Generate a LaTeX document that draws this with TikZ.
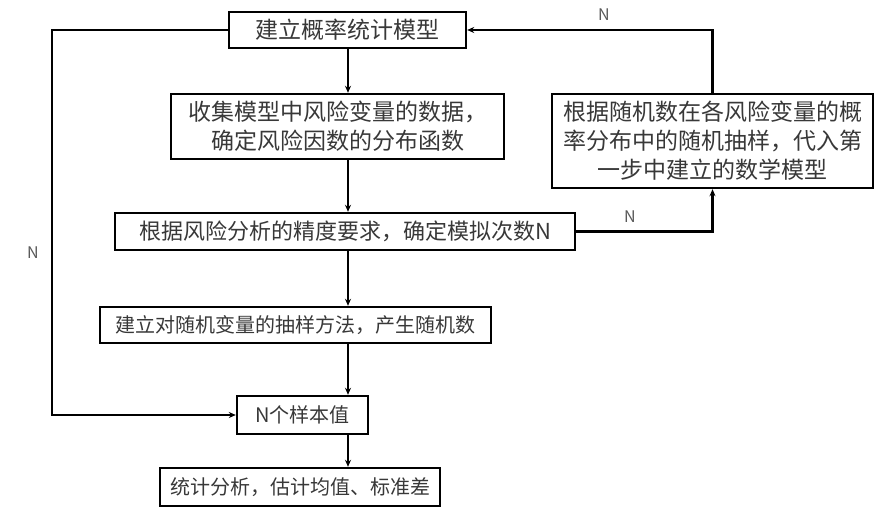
\documentclass[tikz,border=0pt]{standalone}
\usepackage{fontspec}
\setmainfont{Noto Sans CJK SC}
\usepackage{tikz}
\usetikzlibrary{arrows.meta}

\begin{document}
\begin{tikzpicture}[x=1pt,y=-1pt,
  box/.style={draw,line width=2.4pt,inner sep=0pt,align=center,text=black!78,
    font=\fontsize{23}{29}\selectfont},
  small/.style={font=\fontsize{20}{26}\selectfont},
  arr/.style={line width=2.4pt,-{Stealth[length=7pt,width=6pt]}},
  lab/.style={text=black!65,font=\fontsize{16}{18}\selectfont}]
\useasboundingbox (0,0) rectangle (886,532);
\node[coordinate] (c) at (348,0) {};
\node[coordinate] (l) at (52,0) {};

% boxes
\node[box,minimum width=237,minimum height=36] (model) at (347.5,30) {建立概率统计模型};
\node[box,minimum width=333,minimum height=65] (data) at (337.5,126.5)
  {收集模型中风险变量的数据，\\确定风险因数的分布函数};
\node[box,font=\fontsize{22}{29}\selectfont,minimum width=460,minimum height=37] (times) at (345,231.5)
  {根据风险分析的精度要求，确定模拟次数N};
\node[box,minimum width=321,minimum height=94] (sample) at (712.5,141)
  {根据随机数在各风险变量的概\\率分布中的随机抽样，代入第\\一步中建立的数学模型};
\node[box,small,minimum width=391,minimum height=36] (rand) at (295.5,325)
  {建立对随机变量的抽样方法，产生随机数};
\node[box,small,minimum width=131,minimum height=38] (vals) at (302.5,415) {N个样本值};
\node[box,small,minimum width=280,minimum height=38] (stat) at (300,487)
  {统计分析，估计均值、标准差};

% main column
\draw[arr] (model.south -| c) -- (data.north -| c);
\draw[arr] (data.south -| c) -- (times.north -| c);
\draw[arr] (times.south -| c) -- (rand.north -| c);
\draw[arr] (rand.south -| c) -- (vals.north -| c);
\draw[arr] (vals.south -| c) -- (stat.north -| c);

% loops
\draw[arr] (times.east) -| (sample.south);
\draw[arr] (sample.north) |- (model.east);
\draw[arr] (model.west) -- (model.west -| l) |- (vals.west);

% labels
\node[lab] (n1) at (33,253) {N};
\node[lab] (n2) at (630,217) {N};
\node[lab] (n3) at (604,15) {N};
\end{tikzpicture}
\end{document}
